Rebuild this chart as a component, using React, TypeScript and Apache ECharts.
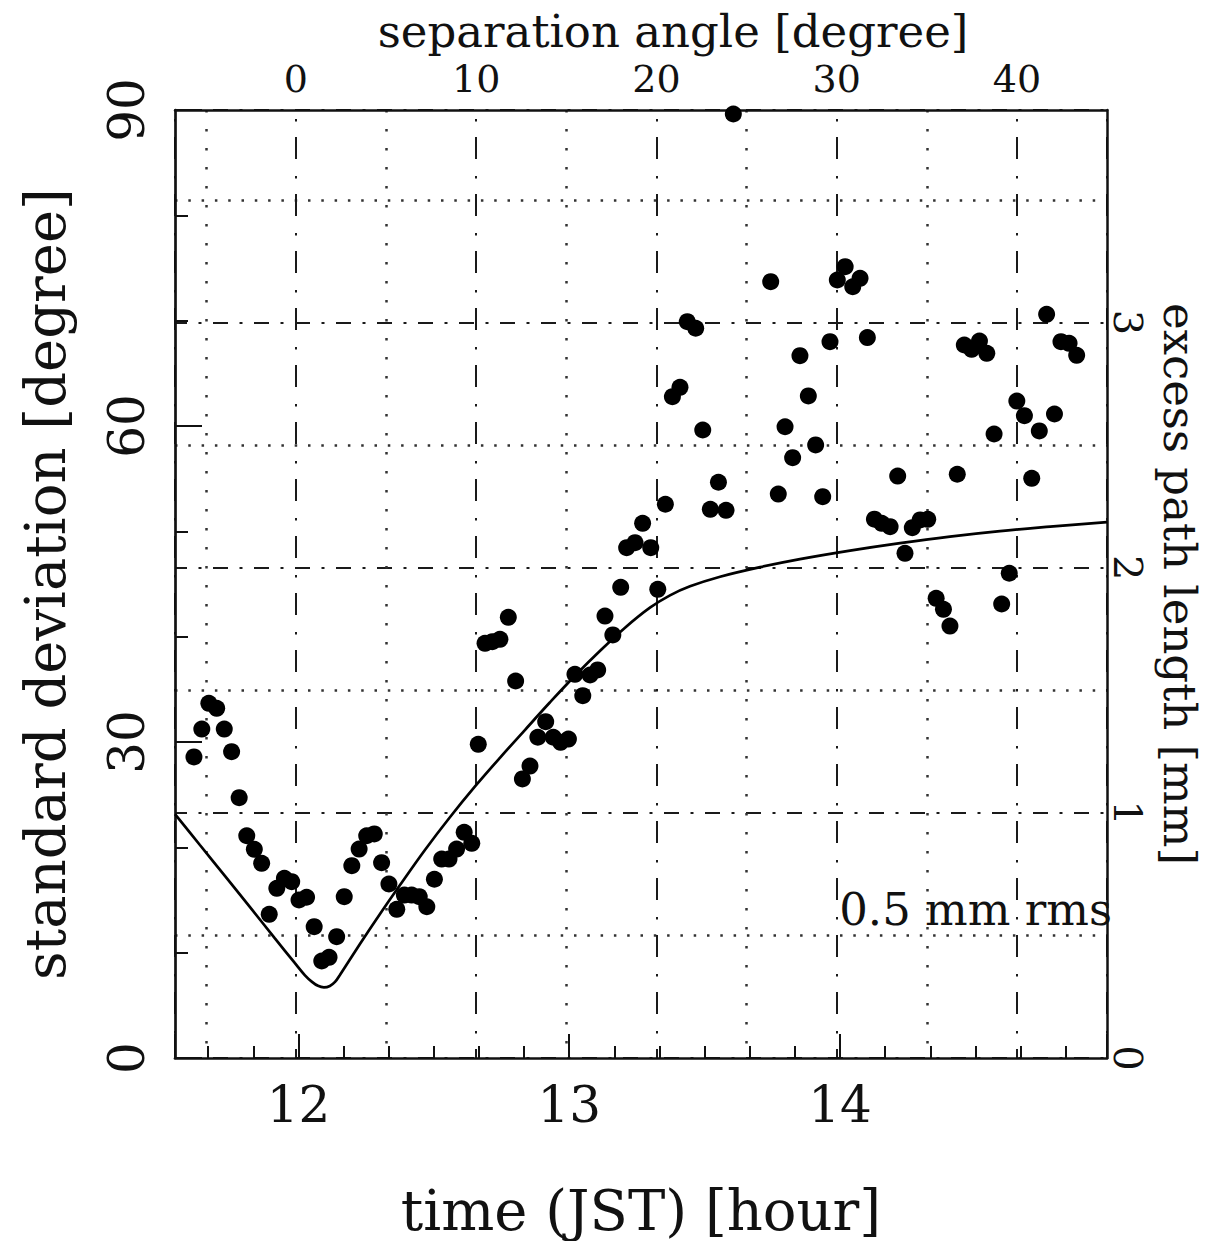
import React, { useEffect, useRef } from "react";
import * as echarts from "echarts";

// Observed standard deviation of the phase difference
const obsTime: number[] = [
  11.614, 11.643, 11.669, 11.698, 11.726, 11.753, 11.781, 11.809, 11.837, 11.864,
  11.892, 11.92, 11.948, 11.975, 12.002, 12.03, 12.058, 12.086, 12.113, 12.141,
  12.169, 12.197, 12.224, 12.252, 12.28, 12.307, 12.334, 12.363, 12.391, 12.418,
  12.446, 12.474, 12.502, 12.529, 12.556, 12.584, 12.612, 12.64, 12.664, 12.689,
  12.716, 12.744, 12.775, 12.802, 12.827, 12.855, 12.884, 12.913, 12.941, 12.968,
  12.997, 13.021, 13.05, 13.077, 13.105, 13.132, 13.161, 13.19, 13.212, 13.243,
  13.271, 13.301, 13.327, 13.355, 13.381, 13.409, 13.436, 13.467, 13.493, 13.521,
  13.551, 13.579, 13.606, 13.744, 13.772, 13.797, 13.825, 13.852, 13.883, 13.91,
  13.936, 13.963, 13.99, 14.019, 14.047, 14.074, 14.101, 14.127, 14.154, 14.185,
  14.213, 14.24, 14.267, 14.296, 14.324, 14.355, 14.382, 14.406, 14.433, 14.459,
  14.486, 14.515, 14.542, 14.569, 14.597, 14.625, 14.653, 14.681, 14.708, 14.736,
  14.763, 14.792, 14.816, 14.846, 14.874,
];
const obsStdDev: number[] = [
  28.58, 31.23, 33.67, 33.2, 31.23, 29.08, 24.71, 21.1, 19.81, 18.48,
  13.64, 16.11, 17.06, 16.74, 15.0, 15.26, 12.47, 9.21, 9.56, 11.52,
  15.31, 18.26, 19.84, 21.1, 21.27, 18.54, 16.52, 14.12, 15.47, 15.47,
  15.31, 14.36, 16.97, 18.89, 18.89, 19.84, 21.43, 20.38, 29.78, 39.37,
  39.52, 39.75, 41.84, 35.79, 26.49, 27.72, 30.45, 31.93, 30.45, 29.97,
  30.28, 36.43, 34.4, 36.36, 36.84, 41.96, 40.16, 44.69, 48.45, 48.92,
  50.76, 48.45, 44.5, 52.57, 62.78, 63.67, 69.9, 69.28, 59.62, 52.09,
  54.66, 52.0, 89.62, 73.7, 53.54, 59.93, 56.99, 66.68, 62.85, 58.2,
  53.29, 68.0, 73.86, 75.12, 73.22, 74.02, 68.4, 51.15, 50.76, 50.44,
  55.25, 47.91, 50.35, 51.08, 51.14, 43.64, 42.6, 41.01, 55.42, 67.69,
  67.28, 68.07, 66.9, 59.24, 43.1, 46.02, 62.37, 60.98, 55.03, 59.53,
  70.6, 61.14, 68.0, 67.85, 66.71,
];

// Model curve
const modelTime: number[] = [
  11.544, 11.636, 11.729, 11.821, 11.913, 11.987, 12.024, 12.05, 12.072, 12.094,
  12.116, 12.135, 12.153, 12.227, 12.301, 12.375, 12.467, 12.56, 12.652, 12.744,
  12.837, 12.929, 13.021, 13.114, 13.206, 13.298, 13.372, 13.446, 13.557, 13.705,
  13.852, 14.037, 14.222, 14.406, 14.591, 14.776, 14.986,
];
const modelStdDev: number[] = [
  23.16, 20.22, 17.27, 14.32, 11.36, 9.0, 7.85, 7.23, 6.85, 6.71,
  6.84, 7.22, 7.88, 10.82, 13.67, 16.42, 19.75, 22.88, 25.78, 28.5,
  31.16, 33.77, 36.29, 38.66, 40.85, 42.75, 43.92, 44.78, 45.69, 46.6,
  47.36, 48.17, 48.88, 49.5, 50.02, 50.44, 50.88,
];

// Axis ranges
const timeRange: number[] = [11.544, 14.986];
const sepRange: number[] = [-6.71, 45];
const stdRange: number[] = [0, 90];
const pathRange: number[] = [0, 3.867];

const titles = {
  bottom: "time (JST) [hour]",
  top: "separation angle [degree]",
  left: "standard deviation [degree]",
  right: "excess path length [mm]",
};
const annotation = "0.5 mm rms";

const FONT = "'DejaVu Serif', 'Liberation Serif', serif";
const INK = "#111";

const multipleLabel = (step: number) => (v: number) => {
  const r = Math.round(v / step) * step;
  return Math.abs(v - r) < 1e-6 ? String(Math.round(r)) : "";
};

const dashDotV = { color: "#1a1a1a", width: 2, type: [22, 17, 2.5, 15.5], dashOffset: 30 };
const dotV = { color: "#333", width: 2.5, type: [2.5, 16.5], dashOffset: 0 };
const dashDotH = { color: "#1a1a1a", width: 2, type: [15, 11.5, 3, 11.5], dashOffset: 3 };
const dotH = { color: "#333", width: 2.5, type: [2.5, 10.8], dashOffset: 0 };

export default function App() {
  const ref = useRef<HTMLDivElement>(null);

  useEffect(() => {
    if (!ref.current) return;
    const chart = echarts.init(ref.current, null, { renderer: "svg" });

    const option: any = {
      animation: false,
      backgroundColor: "#ffffff",
      grid: {
        left: 175,
        top: 110,
        right: 105,
        bottom: 183,
        containLabel: false,
        outerBoundsMode: "none",
      },
      xAxis: [
        {
          type: "value",
          position: "bottom",
          min: timeRange[0],
          max: timeRange[1],
          splitNumber: 3,
          name: titles.bottom,
          nameLocation: "middle",
          nameGap: 124,
          nameMoveOverlap: false,
          nameTextStyle: { fontFamily: FONT, fontSize: 56, color: INK },
          axisLine: { show: true, onZero: false, lineStyle: { color: INK, width: 2.7 } },
          axisTick: { show: true, inside: true, length: 24, lineStyle: { color: INK, width: 2 } },
          minorTick: { show: true, splitNumber: 6, length: 12, lineStyle: { color: INK, width: 2 } },
          axisLabel: {
            margin: 22,
            fontFamily: FONT,
            fontSize: 50,
            color: INK,
            formatter: multipleLabel(1),
          },
          splitLine: { show: false },
        },
        {
          type: "value",
          position: "top",
          min: sepRange[0],
          max: sepRange[1],
          name: titles.top,
          nameLocation: "middle",
          nameGap: 56,
          nameMoveOverlap: false,
          nameTextStyle: { fontFamily: FONT, fontSize: 45, color: INK, padding: [0, 0, 0, 64] },
          axisLine: { show: true, onZero: false, lineStyle: { color: INK, width: 2.5 } },
          axisTick: { show: false },
          minorTick: { show: false, splitNumber: 2 },
          axisLabel: {
            margin: 12,
            fontFamily: FONT,
            fontSize: 38,
            color: INK,
            formatter: multipleLabel(10),
          },
          splitLine: { show: true, lineStyle: dashDotV },
          minorSplitLine: { show: true, lineStyle: dotV },
        },
      ],
      yAxis: [
        {
          type: "value",
          position: "left",
          min: stdRange[0],
          max: stdRange[1],
          interval: 30,
          name: titles.left,
          nameLocation: "middle",
          nameRotate: 90,
          nameGap: 102,
          nameMoveOverlap: false,
          nameTextStyle: { fontFamily: FONT, fontSize: 56, color: INK },
          axisLine: { show: true, onZero: false, lineStyle: { color: INK, width: 2.7 } },
          axisTick: { show: true, inside: true, length: 27, lineStyle: { color: INK, width: 2 } },
          minorTick: { show: true, splitNumber: 3, length: 13, lineStyle: { color: INK, width: 2 } },
          axisLabel: {
            margin: 23,
            rotate: 90,
            fontFamily: FONT,
            fontSize: 50,
            color: INK,
            formatter: multipleLabel(30),
          },
          splitLine: { show: false },
        },
        {
          type: "value",
          position: "right",
          min: pathRange[0],
          max: pathRange[1],
          interval: 1,
          name: titles.right,
          nameLocation: "middle",
          nameRotate: -90,
          nameGap: 50,
          nameMoveOverlap: false,
          nameTextStyle: { fontFamily: FONT, fontSize: 45, color: INK },
          axisLine: { show: true, onZero: false, lineStyle: { color: INK, width: 2.5 } },
          axisTick: { show: false },
          minorTick: { show: false, splitNumber: 2 },
          axisLabel: {
            margin: 1,
            rotate: -90,
            fontFamily: FONT,
            fontSize: 40,
            color: INK,
            formatter: multipleLabel(1),
          },
          splitLine: { show: true, lineStyle: dashDotH },
          minorSplitLine: { show: true, lineStyle: dotH },
        },
      ],
      graphic: [
        {
          type: "text",
          x: 1112,
          y: 909,
          silent: true,
          style: {
            text: annotation,
            fontFamily: FONT,
            fontSize: 45,
            fill: INK,
            align: "right",
            verticalAlign: "middle",
          },
        },
      ],
      series: [
        {
          name: "model",
          type: "line",
          xAxisIndex: 0,
          yAxisIndex: 0,
          data: modelTime.map((t, i) => [t, modelStdDev[i]]),
          showSymbol: false,
          symbol: "none",
          smooth: 0.35,
          lineStyle: { color: "#000", width: 2.7 },
          silent: true,
          z: 3,
        },
        {
          name: "observed",
          type: "scatter",
          xAxisIndex: 0,
          yAxisIndex: 0,
          data: obsTime.map((t, i) => [t, obsStdDev[i]]),
          symbol: "circle",
          symbolSize: 17,
          itemStyle: { color: "#000", opacity: 1 },
          silent: true,
          z: 4,
        },
      ],
    };

    chart.setOption(option);
    return () => chart.dispose();
  }, []);

  return (
    <div
      ref={ref}
      style={{ position: "fixed", left: 0, top: 0, width: 1212, height: 1241, background: "#fff" }}
    />
  );
}
